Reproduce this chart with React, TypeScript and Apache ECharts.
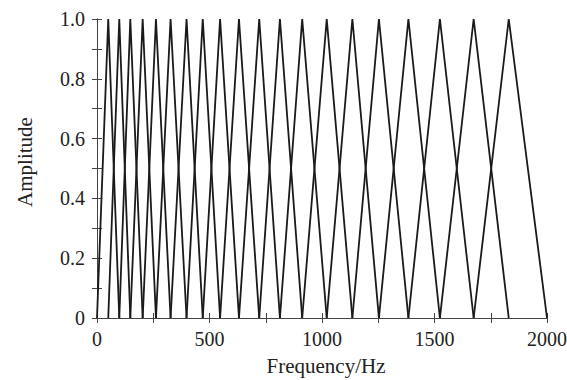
import React, { useEffect, useRef } from "react";
import * as echarts from "echarts";

// Centre frequencies (Hz) of the triangular filter bank, including the two edge points
const edgePoints: number[] = [0, 50, 99, 148, 203, 262, 327, 398, 470, 547, 631, 721, 813, 912, 1021, 1135, 1253, 1384, 1524, 1674, 1830, 2000];
const xTickLabels: number[] = [0, 500, 1000, 1500, 2000];
const yTickLabels: string[] = ["0", "0.2", "0.4", "0.6", "0.8", "1.0"];
const xName = "Frequency/Hz";
const yName = "Amplitude";

const FONT = "'Liberation Serif', 'Times New Roman', serif";
const FS = 20;

export default function App() {
  const ref = useRef<HTMLDivElement>(null);
  useEffect(() => {
    if (!ref.current) return;
    const chart = echarts.init(ref.current, undefined, { renderer: "svg" });
    const series: any[] = [];
    for (let i = 1; i < edgePoints.length - 1; i++) {
      series.push({
        type: "line",
        xAxisIndex: 0,
        yAxisIndex: 0,
        data: [
          [edgePoints[i - 1], 0],
          [edgePoints[i], 1],
          [edgePoints[i + 1], 0],
        ],
        symbol: "none",
        lineStyle: { color: "#1a1a1a", width: 1.8 },
        silent: true,
      });
    }
    const axisLine = { show: true, lineStyle: { color: "#444", width: 1 } };
    const tickStyle = { lineStyle: { color: "#444", width: 1 } };
    chart.setOption({
      animation: false,
      backgroundColor: "#fff",
      grid: {
        left: 97,
        right: 20,
        top: 19,
        bottom: 62,
        containLabel: false,
        outerBoundsMode: "none",
      },
      graphic: [
        {
          type: "text",
          x: 326,
          y: 366,
          style: {
            text: xName,
            fontFamily: FONT,
            fontSize: 21,
            fill: "#222",
            align: "center",
            verticalAlign: "middle",
          },
        },
        {
          type: "text",
          x: 25,
          y: 162,
          rotation: Math.PI / 2,
          style: {
            text: yName,
            fontFamily: FONT,
            fontSize: 21,
            fill: "#222",
            align: "center",
            verticalAlign: "middle",
          },
        },
      ],
      xAxis: [
        {
          type: "value",
          min: 0,
          max: 2000,
          interval: 500,
          position: "bottom",
          axisLine,
          axisTick: { show: true, inside: true, length: 5, ...tickStyle },
          minorTick: { show: true, splitNumber: 2, length: 5, ...tickStyle },
          splitLine: { show: false },
          axisLabel: {
            fontFamily: FONT,
            fontSize: FS,
            color: "#222",
            margin: 11,
            formatter: (v: number) => (xTickLabels.includes(v) ? String(v) : ""),
          },
        },
        {
          type: "value",
          min: 0,
          max: 2000,
          interval: 500,
          position: "top",
          axisLine,
          axisTick: { show: true, inside: true, length: 5, ...tickStyle },
          minorTick: { show: true, splitNumber: 2, length: 5, ...tickStyle },
          splitLine: { show: false },
          axisLabel: { show: false },
        },
      ],
      yAxis: [
        {
          type: "value",
          min: 0,
          max: 1,
          interval: 0.2,
          position: "left",
          axisLine,
          axisTick: { show: true, inside: true, length: 5, ...tickStyle },
          minorTick: { show: true, splitNumber: 2, length: 5, ...tickStyle },
          splitLine: { show: false },
          axisLabel: {
            fontFamily: FONT,
            fontSize: FS,
            color: "#222",
            margin: 12,
            formatter: (v: number) => yTickLabels[Math.round(v / 0.2)] ?? "",
          },
        },
        {
          type: "value",
          min: 0,
          max: 1,
          interval: 0.2,
          position: "right",
          axisLine,
          axisTick: { show: true, inside: true, length: 5, ...tickStyle },
          minorTick: { show: true, splitNumber: 2, length: 5, ...tickStyle },
          splitLine: { show: false },
          axisLabel: { show: false },
        },
      ],
      series,
    });
    return () => chart.dispose();
  }, []);
  return (
    <div
      ref={ref}
      style={{ position: "absolute", left: 0, top: 0, width: 567, height: 380 }}
    />
  );
}
